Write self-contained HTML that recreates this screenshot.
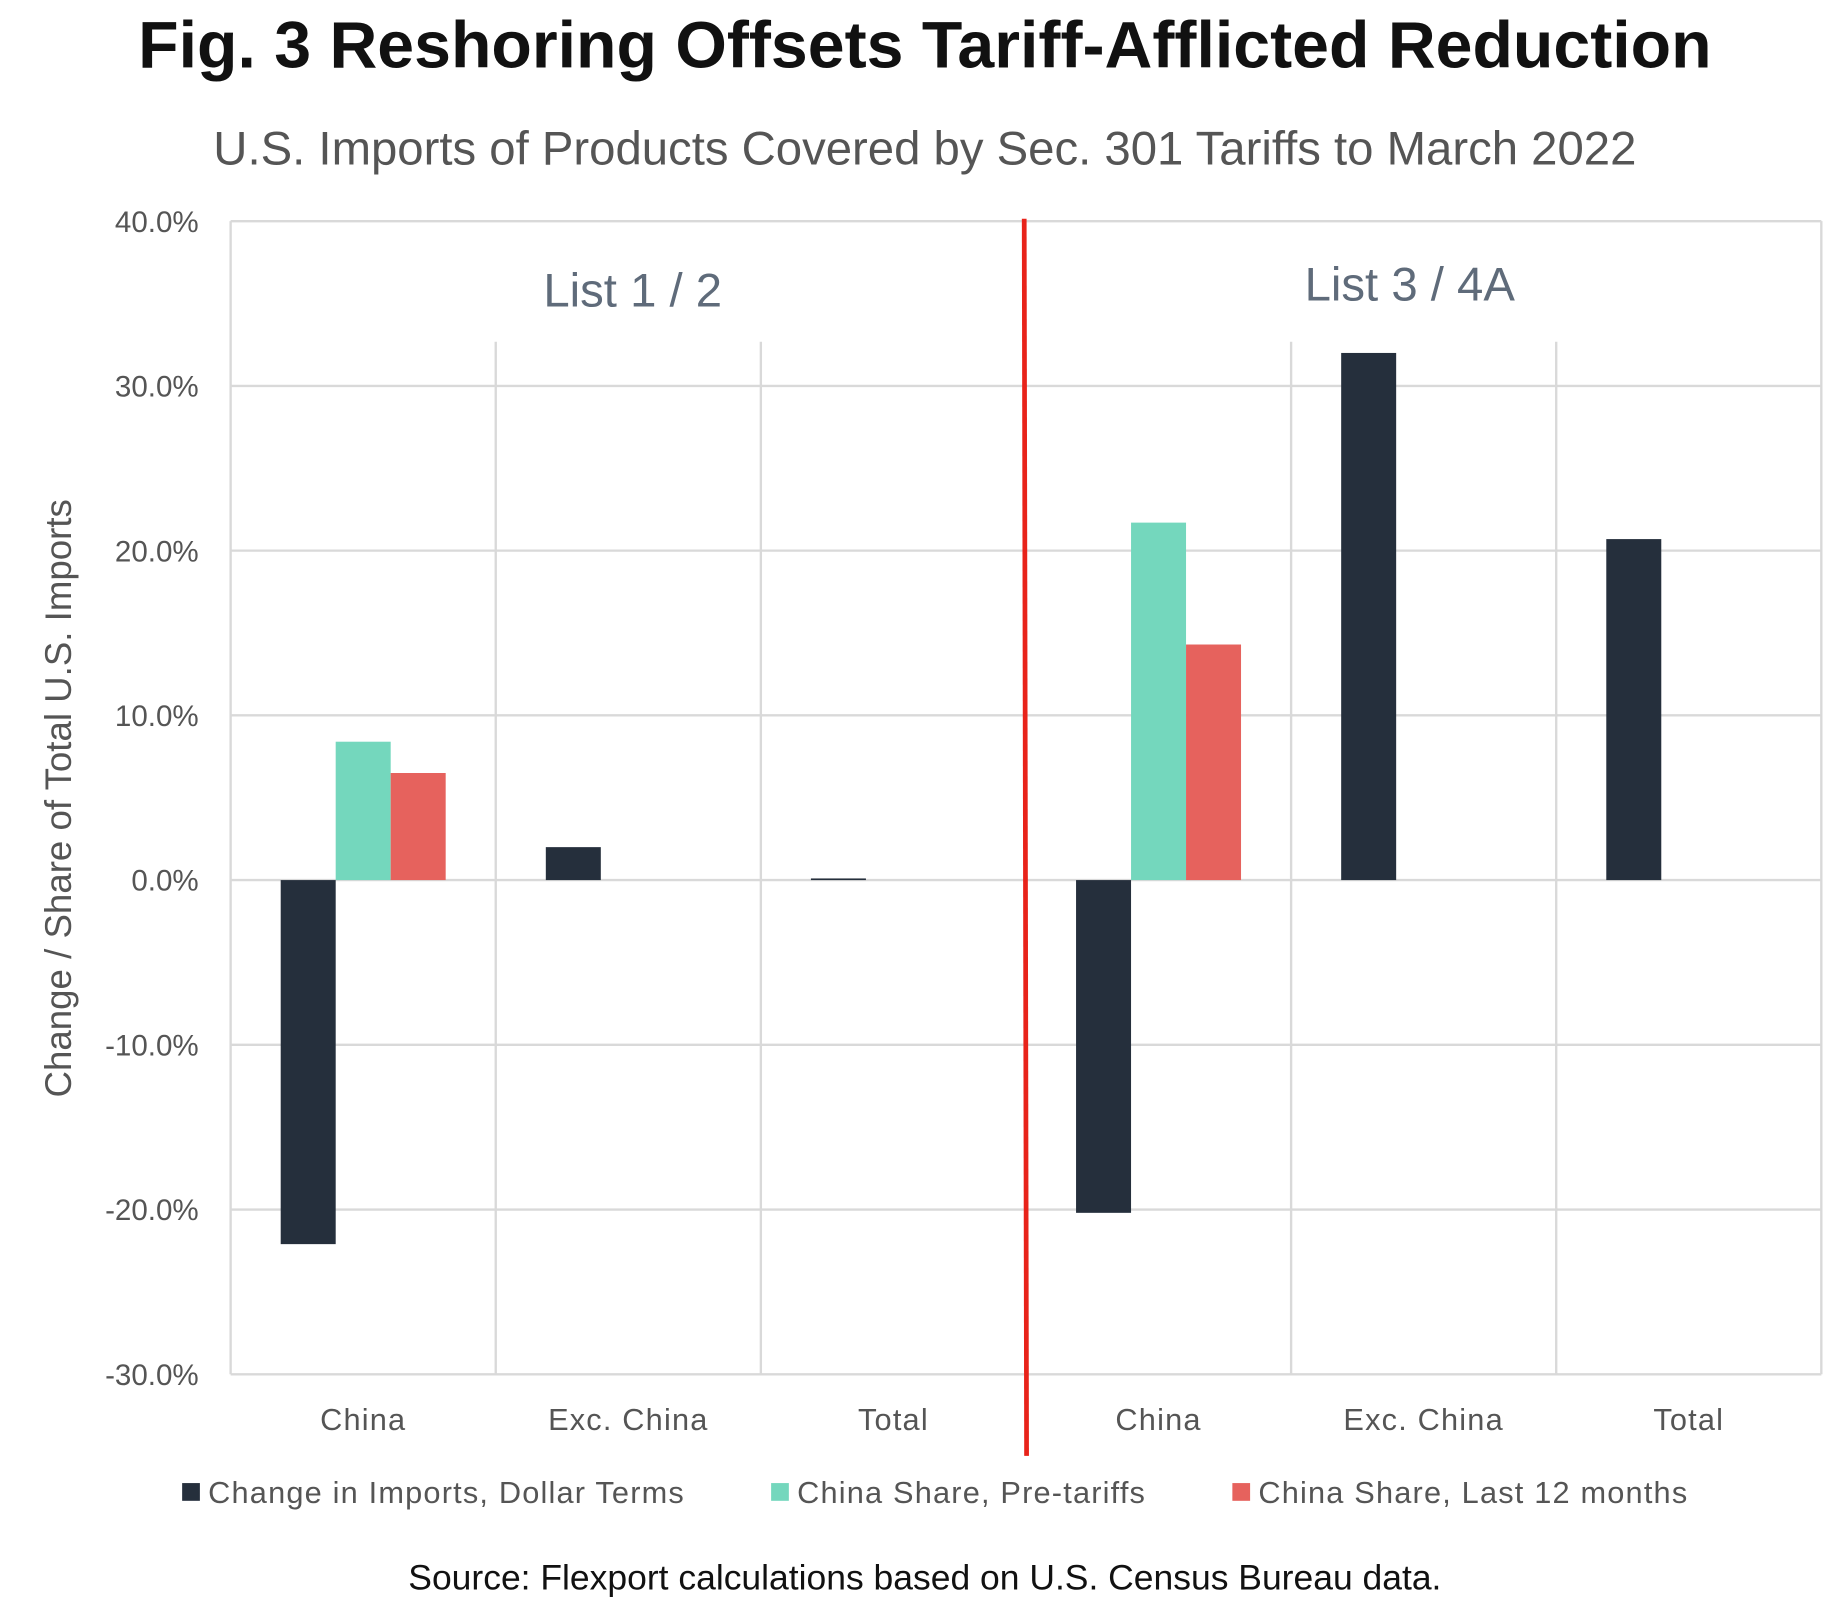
<!DOCTYPE html>
<html><head><meta charset="utf-8"><style>
html,body{margin:0;padding:0;background:#fff;}
svg{display:block;font-family:"Liberation Sans",sans-serif;}
</style></head><body>
<svg id="chart" width="1845" height="1603" viewBox="0 0 1560 1355.4" xmlns="http://www.w3.org/2000/svg">
<text x="782" y="57" text-anchor="middle" font-size="56" font-weight="bold" fill="#111">Fig. 3 Reshoring Offsets Tariff-Afflicted Reduction</text>
<text x="782" y="139" text-anchor="middle" font-size="40" fill="#555">U.S. Imports of Products Covered by Sec. 301 Tariffs to March 2022</text>
<g id="grid"></g>
<g id="bars"></g>
<g id="labels"></g>
<text transform="translate(60,675) rotate(-90)" text-anchor="middle" font-size="31" fill="#555">Change / Share of Total U.S. Imports</text>
<text x="535" y="259" text-anchor="middle" font-size="40" fill="#5f6b7a">List 1 / 2</text>
<text x="1192" y="254" text-anchor="middle" font-size="40" fill="#5f6b7a">List 3 / 4A</text>
<line x1="866" y1="185" x2="868" y2="1231" stroke="#e8231a" stroke-width="4"/>
<g font-size="26" fill="#555" letter-spacing="1">
<rect x="154" y="1254" width="15" height="15" fill="#252f3c"/>
<text x="176" y="1271">Change in Imports, Dollar Terms</text>
<rect x="652" y="1254" width="15" height="15" fill="#74d7bd"/>
<text x="674" y="1271">China Share, Pre-tariffs</text>
<rect x="1042" y="1254" width="15" height="15" fill="#e6625d"/>
<text x="1064" y="1271">China Share, Last 12 months</text>
</g>
<text x="782" y="1344" text-anchor="middle" font-size="30" fill="#111">Source: Flexport calculations based on U.S. Census Bureau data.</text>
</svg>
<script>
const categories = ["China","Exc. China","Total","China","Exc. China","Total"];
const changeValues = [-22.1, 2.0, 0.1, -20.2, 32.0, 20.7];
const preTariffShare = [8.4, null, null, 21.7, null, null];
const last12Share = [6.5, null, null, 14.3, null, null];
const yTicks = [40,30,20,10,0,-10,-20,-30];
const yTickLabels = ["40.0%","30.0%","20.0%","10.0%","0.0%","-10.0%","-20.0%","-30.0%"];

const NS="http://www.w3.org/2000/svg";
const L=195,R=1540,T=187,B=1162,yMax=40,yMin=-30;
function y(v){return T+(yMax-v)/(yMax-yMin)*(B-T);}
const gw=(R-L)/categories.length, bw=46.5;
function cx(i){return L+gw*(i+0.5);}
function mk(tag,attrs,parent){const e=document.createElementNS(NS,tag);for(const k in attrs)e.setAttribute(k,attrs[k]);parent.appendChild(e);return e;}
const grid=document.getElementById('grid'),bars=document.getElementById('bars'),labels=document.getElementById('labels');

yTicks.forEach((t,i)=>{
  const ln=mk('line',{x1:L,x2:R,y1:y(t),y2:y(t),stroke:'#d9d9d9','stroke-width':2},grid);
  
  
  const tx=mk('text',{x:168,y:y(t)+9,'text-anchor':'end','font-size':25,fill:'#555'},labels);
  tx.textContent=yTickLabels[i];
  
  
});
[0,categories.length].forEach(k=>{
  const ln=mk('line',{x1:L+gw*k,x2:L+gw*k,y1:T,y2:B,stroke:'#d9d9d9','stroke-width':2},grid);
  
  
});
[1,2,4,5].forEach(k=>{
  const ln=mk('line',{x1:L+gw*k,x2:L+gw*k,y1:289,y2:B,stroke:'#d9d9d9','stroke-width':2},grid);
  
  
});
function bar(v,i,slot,color,name){
  if(v===null)return;
  const x=cx(i)-1.5*bw+slot*bw;
  const r=mk('rect',{x:x,y:Math.min(y(v),y(0)),width:bw,height:Math.max(Math.abs(y(v)-y(0)),0.8),fill:color},bars);
  
  
}
categories.forEach((c,i)=>{
  bar(changeValues[i],i,0,'#252f3c','bar-change');
  bar(preTariffShare[i],i,1,'#74d7bd','bar-pre-tariffs');
  bar(last12Share[i],i,2,'#e6625d','bar-last-12');
  const tx=mk('text',{x:cx(i),y:1209,'text-anchor':'middle','font-size':26,'letter-spacing':1,fill:'#555'},labels);
  tx.textContent=c;
  
  
});
</script>
</body></html>
